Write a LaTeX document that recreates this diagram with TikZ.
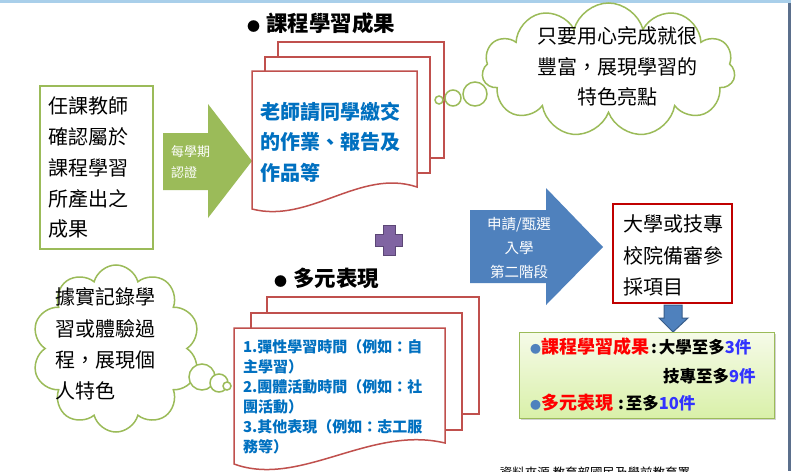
\documentclass[tikz,border=0pt]{standalone}
\usepackage{fontspec}
\setmainfont{Noto Sans CJK TC}
\usetikzlibrary{shapes.symbols,shadows}
\definecolor{cgreen}{HTML}{9BBB59}
\definecolor{cred}{HTML}{C0504D}
\definecolor{cblue}{HTML}{4F81BD}
\definecolor{cbluedark}{HTML}{385D8A}
\definecolor{tblue}{HTML}{0070C0}
\definecolor{dred}{HTML}{C00000}
\definecolor{cpurple}{HTML}{8064A2}
\definecolor{cpurpledark}{HTML}{5C4776}
\definecolor{numblue}{HTML}{3333FF}
\definecolor{topline}{HTML}{A9CFEA}
\definecolor{sideline}{HTML}{5B6F8C}
\definecolor{boxtop}{HTML}{F6FBE9}
\definecolor{boxbot}{HTML}{D9F0A9}
\newcommand{\redpart}[1]{\textcolor{red}{\fontsize{18}{18}\selectfont #1}}
\newcommand{\numpart}[1]{\textcolor{numblue}{#1}}
\newcommand{\bulletpart}{\textcolor{cblue}{\fontsize{11}{11}\selectfont●}}
\begin{document}
\begin{tikzpicture}[x=1pt,y=-1pt,
  txt/.style={inner sep=0,outer sep=0},
  f20/.style={font=\fontsize{20}{30.75}\selectfont},
  sheet/.style={draw=cred,line width=1.5pt,fill=white},
  puff/.style={draw=cgreen,line width=1.5pt,fill=white},
  sumtext/.style={txt,anchor=west,font=\bfseries\fontsize{16.5}{16.5}\selectfont},
]
\useasboundingbox (0,0) rectangle (791,471);
\fill[white] (0,0) rectangle (791,471);
\fill[topline] (0,0) rectangle (791,3);
\fill[sideline] (788,3) rectangle (791,471);

% left box
\draw[cgreen,line width=2pt] (40,86) rectangle (153,249);
\node[txt,f20,anchor=north west,align=left] (teacher) at (48,97) {任課教師\\確認屬於\\課程學習\\所產出之\\成果};

% green arrow
\fill[cgreen] (163,133) -- (208,133) -- (208,104) -- (252,161) -- (208,218) -- (208,190) -- (163,190) -- cycle;
\node[txt,anchor=north west,align=left,text=white,font=\fontsize{13}{21}\selectfont] (sem) at (171,145.5) {每學期\\認證};

% title 1
\node[txt,anchor=west,font=\bfseries\fontsize{21.5}{21.5}\selectfont] (title1) at (247,23) {{\fontsize{13}{13}\selectfont●}\hspace{6pt}課程學習成果};

% top document stack
\draw[sheet] (278,42) rectangle (444,158);
\draw[sheet] (265,57) rectangle (430,173);
\draw[sheet] (252,71) -- (417,71) -- (417,187) .. controls (360,168) and (310,224) .. (252,209) -- cycle;
\node[txt,anchor=north west,align=left,text=tblue,font=\bfseries\fontsize{20}{30.5}\selectfont] (work) at (260,102) {老師請同學繳交\\的作業、報告及\\作品等};

% top cloud
\node[cloud,cloud puffs=11,cloud ignores aspect,minimum width=253pt,minimum height=134pt,puff,inner sep=0] (cloudA) at (608.5,70) {};
\draw[puff] (475,94) circle (12);
\draw[puff] (453,98) circle (8);
\draw[puff] (439,100) circle (4);
\node[txt,anchor=north,align=center,font=\fontsize{20}{30.5}\selectfont] (rich) at (617,27) {只要用心完成就很\\豐富，展現學習的\\特色亮點};

% plus
\draw[fill=cpurple,draw=cpurpledark,line width=1pt] (383,225) -- (395,225) -- (395,234) -- (402,234) -- (402,246) -- (395,246) -- (395,255) -- (383,255) -- (383,246) -- (375,246) -- (375,234) -- (383,234) -- cycle;

% title 2
\node[txt,anchor=west,font=\bfseries\fontsize{21.5}{21.5}\selectfont] (title2) at (274,278) {{\fontsize{13}{13}\selectfont●}\hspace{6pt}多元表現};

% bottom document stack
\draw[sheet] (267,297) rectangle (479,414);
\draw[sheet] (251,313) rectangle (462,430);
\draw[sheet] (234,328) -- (445,328) -- (445,443) .. controls (370,425) and (300,488) .. (234,464) -- cycle;
\node[txt,anchor=north west,align=left,text=tblue,font=\bfseries\fontsize{15}{20}\selectfont] (multi) at (243,339.5) {1.彈性學習時間（例如：自\\主學習）\\2.團體活動時間（例如：社\\團活動）\\3.其他表現（例如：志工服\\務等）};

% bottom cloud
\node[cloud,cloud puffs=10,cloud ignores aspect,minimum width=168pt,minimum height=167pt,puff,inner sep=0] (cloudB) at (116,348.5) {};
\draw[puff] (202,377) circle (13);
\draw[puff] (219,383) circle (9);
\draw[puff] (227,386) circle (4);
\node[txt,anchor=north west,align=left,font=\fontsize{20}{31.3}\selectfont] (record) at (55,288) {據實記錄學\\習或體驗過\\程，展現個\\人特色};

% blue arrow
\fill[cblue] (470,210) -- (546,210) -- (546,188) -- (603,247) -- (546,305) -- (546,283) -- (470,283) -- cycle;
\node[txt,anchor=north,align=center,text=white,font=\fontsize{14.5}{24}\selectfont] (apply) at (519,217.75) {申請/甄選\\入學\\第二階段};

% red box
\draw[dred,line width=2pt] (613,204) rectangle (732,303);
\node[txt,anchor=north west,align=left,font=\fontsize{20}{31.5}\selectfont] (review) at (623,215) {大學或技專\\校院備審參\\採項目};

% down arrow
\draw[fill=cblue,draw=cbluedark,line width=1pt] (664,305) -- (682,305) -- (682,318) -- (688,318) -- (673,332) -- (659,318) -- (664,318) -- cycle;

% summary box
\shade[top color=boxtop,bottom color=boxbot,draw=cgreen,line width=1pt,drop shadow={opacity=0.35,shadow xshift=2pt,shadow yshift=-2pt}] (519,332) rectangle (774,418);
\node[sumtext] (sum1) at (530,347) {\bulletpart\redpart{課程學習成果}\hspace{2pt}:\hspace{2pt}大學至多\numpart{3件}};
\node[sumtext] (sum2) at (663,376) {技專至多\numpart{9件}};
\node[sumtext] (sum3) at (530,403) {\bulletpart\redpart{多元表現}\hspace{5pt}:\hspace{2pt}至多\numpart{10件}};

% source (cut off at bottom, as in the reference)
\node[txt,font=\fontsize{12.5}{12.5}\selectfont] (source) at (595,473) {資料來源 教育部國民及學前教育署};
\end{tikzpicture}
\end{document}
